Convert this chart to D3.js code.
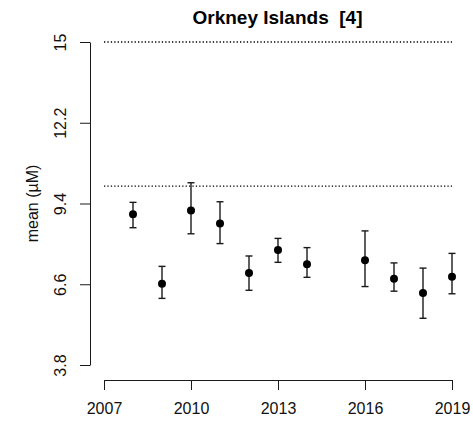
<!DOCTYPE html>
<html>
<head>
<meta charset="utf-8">
<script src="https://cdn.jsdelivr.net/npm/d3@7"></script>
<style>
  html, body { margin: 0; padding: 0; background: #fff; }
  svg { display: block; font-family: "Liberation Sans", Arial, Helvetica, sans-serif; }
</style>
</head>
<body>
<svg id="chart" width="473" height="422"></svg>
<script>
// Annual mean concentration with interval bounds
const years = [2008, 2009, 2010, 2011, 2012, 2013, 2014, 2016, 2017, 2018, 2019];
const means = [9.03, 6.62, 9.16, 8.71, 6.99, 7.79, 7.29, 7.43, 6.79, 6.30, 6.86];
const lower = [8.56, 6.11, 8.35, 8.01, 6.39, 7.36, 6.84, 6.52, 6.36, 5.42, 6.27];
const upper = [9.44, 7.22, 10.12, 9.46, 7.58, 8.19, 7.87, 8.45, 7.34, 7.16, 7.67];

// Axis ticks and reference levels
const xTicks = [2007, 2010, 2013, 2016, 2019];
const yTicks = [3.8, 6.6, 9.4, 12.2, 15];
const refLevels = [10, 15];

const title = "Orkney Islands  [4]";
const yTitle = "mean (\u00B5M)";

const svg = d3.select("#chart");
const ink = "#1a1a1a";

const x = d3.scaleLinear().domain([2007, 2019]).range([104, 452]);
const y = d3.scaleLinear().domain([3.8, 15]).range([365, 42]);

// Title
svg.append("text")
  .attr("x", 277.5).attr("y", 24)
  .attr("text-anchor", "middle")
  .attr("font-size", 19).attr("font-weight", "bold")
  .style("white-space", "pre")
  .attr("fill", "#000")
  .text(title);

// Dotted reference lines
svg.append("g").selectAll("line").data(refLevels).join("line")
  .attr("x1", x(2007)).attr("x2", x(2019))
  .attr("y1", d => y(d)).attr("y2", d => y(d))
  .attr("stroke", "#000").attr("stroke-width", 1.3)
  .attr("stroke-dasharray", "1.3,2.1");

// Left axis
const yAxis = d3.axisLeft(y).tickValues(yTicks).tickSize(10).tickSizeOuter(0)
  .tickFormat(d3.format(".1~f"));
const gy = svg.append("g").attr("transform", "translate(90,0)").call(yAxis);
gy.select(".domain").attr("stroke", ink);
gy.selectAll(".tick line").attr("stroke", ink);
gy.selectAll(".tick text")
  .attr("font-size", 16).attr("fill", "#111")
  .attr("font-family", "Liberation Sans, Arial, sans-serif")
  .attr("x", null).attr("dy", null)
  .attr("text-anchor", "middle")
  .attr("transform", "translate(-24,0) rotate(-90)");

// Bottom axis
const xAxis = d3.axisBottom(x).tickValues(xTicks).tickSize(10).tickSizeOuter(0)
  .tickFormat(d3.format("d"));
const gx = svg.append("g").attr("transform", "translate(0,380)").call(xAxis);
gx.select(".domain").attr("stroke", ink);
gx.selectAll(".tick line").attr("stroke", ink);
gx.selectAll(".tick text")
  .attr("font-size", 16).attr("fill", "#111")
  .attr("font-family", "Liberation Sans, Arial, sans-serif")
  .attr("y", 34).attr("dy", null);

// Y axis title
svg.append("text")
  .attr("transform", `translate(38,${y(9.4)}) rotate(-90)`)
  .attr("text-anchor", "middle")
  .attr("font-size", 16).attr("fill", "#111")
  .text(yTitle);

// Error bars and points
const rows = years.map((yr, i) => ({ yr, m: means[i], lo: lower[i], hi: upper[i] }));
const bars = svg.append("g").attr("stroke", ink).attr("stroke-width", 1.4);
bars.selectAll("line.v").data(rows).join("line").attr("class", "v")
  .attr("x1", d => x(d.yr)).attr("x2", d => x(d.yr))
  .attr("y1", d => y(d.lo)).attr("y2", d => y(d.hi));
bars.selectAll("line.t").data(rows).join("line").attr("class", "t")
  .attr("x1", d => x(d.yr) - 3.5).attr("x2", d => x(d.yr) + 3.5)
  .attr("y1", d => y(d.hi)).attr("y2", d => y(d.hi));
bars.selectAll("line.b").data(rows).join("line").attr("class", "b")
  .attr("x1", d => x(d.yr) - 3.5).attr("x2", d => x(d.yr) + 3.5)
  .attr("y1", d => y(d.lo)).attr("y2", d => y(d.lo));

svg.append("g").selectAll("circle").data(rows).join("circle")
  .attr("cx", d => x(d.yr)).attr("cy", d => y(d.m))
  .attr("r", 4).attr("fill", "#000");
</script>
</body>
</html>
